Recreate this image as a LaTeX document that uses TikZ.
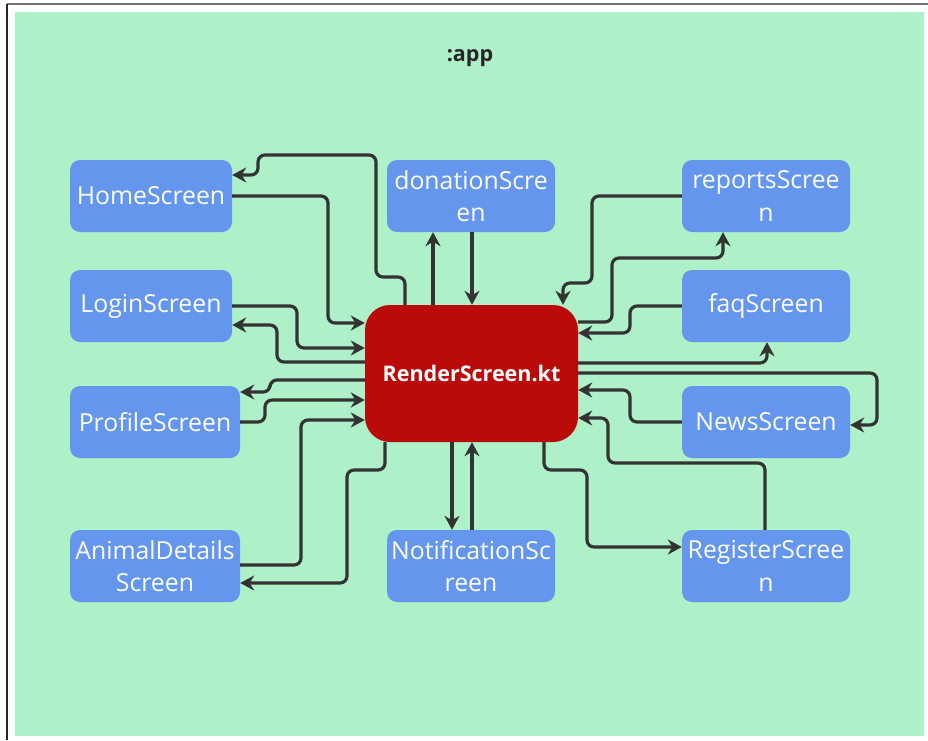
\documentclass[tikz,border=0pt]{standalone}
\usepackage{fontspec}
\setmainfont{Open Sans}
\usetikzlibrary{arrows.meta, positioning}
\usepackage{xcolor}
\definecolor{appgreen}{HTML}{AEF0C8}
\definecolor{scrblue}{HTML}{6496EE}
\definecolor{corered}{HTML}{BA0A0A}
\definecolor{wire}{HTML}{333333}

\begin{document}
\begin{tikzpicture}[
  x=1pt, y=-1pt,
  screen/.style={fill=scrblue, rounded corners=10pt, align=center, text=white, inner sep=0pt,
    minimum height=72pt, minimum width=168pt, font=\fontsize{24.8}{32.5}\selectfont},
  core/.style={fill=corered, rounded corners=25pt, align=center, text=white, inner sep=0pt,
    minimum width=213pt, minimum height=137pt, font=\fontsize{21.5}{25}\selectfont\bfseries},
  arrow/.style={-{Stealth[length=14pt, width=15pt]}, line width=3.2pt, draw=wire, rounded corners=7pt}
]
\useasboundingbox (0,0) rectangle (928,740);
\fill[appgreen] (15,12) rectangle (924,736);
\draw[color=black!55, line width=1.6pt] (7,4) -- (928,4);
\draw[color=black!85, line width=1.6pt] (7,4) -- (7,740);

\node[font=\fontsize{21.5}{25}\selectfont\bfseries, text=black!85] (title) at (470,58) {:app};

\node[core] (render) at (471.5,373.5) {RenderScreen.kt};

\node[screen, minimum width=162pt] (home) at (151,196) {HomeScreen};
\node[screen, minimum width=162pt] (login) at (151,306) {LoginScreen};
\node[screen, minimum width=170pt] (profile) at (155,422) {ProfileScreen};
\node[screen, minimum width=170pt] (animal) at (155,566) {AnimalDetails\\Screen};

\node[screen] (donation) at (471,196) {donationScre\\en};
\node[screen] (notif) at (471,566) {NotificationSc\\reen};

\node[screen] (reports) at (766,196) {reportsScree\\n};
\node[screen] (faq) at (766,306) {faqScreen};
\node[screen] (news) at (766,422) {NewsScreen};
\node[screen] (register) at (766,566) {RegisterScree\\n};

\draw[arrow] (render.north -| 405,0) |- (376,277) |- (258,155) |- (home.east |- 0,175);
\draw[arrow] (home.east) -| (328,323) -- (render.west |- 0,323);
\draw[arrow] (login.east) -| (297,348) -- (render.west |- 0,348);
\draw[arrow] (render.west |- 0,362) -| (277,325) -- (login.east |- 0,325);
\draw[arrow] (render.west |- 0,380) -| (270,392) -- (profile.east |- 0,392);
\draw[arrow] (profile.east) -| (265,400) -- (render.west |- 0,400);
\draw[arrow] (animal.east |- 0,565) -| (301,420) -- (render.west |- 0,420);
\draw[arrow] (render.south -| 385,0) |- (347,470) |- (animal.east |- 0,583);

\draw[arrow] (render.north -| 433,0) -- (donation.south -| 433,0);
\draw[arrow] (donation.south -| 472,0) -- (render.north -| 472,0);
\draw[arrow] (render.south -| 452,0) -- (notif.north -| 452,0);
\draw[arrow] (notif.north -| 472,0) -- (render.south -| 472,0);

\draw[arrow] (reports.west) -| (592,283) -| (render.north -| 563,0);
\draw[arrow] (render.east |- 0,322) -| (612,258) -| (reports.south -| 723,0);
\draw[arrow] (faq.west) -| (630,333) -- (render.east |- 0,333);
\draw[arrow] (render.east |- 0,363) -| (faq.south -| 767,0);
\draw[arrow] (render.east |- 0,373) -| (877,425) -- (news.east |- 0,425);
\draw[arrow] (news.west) -| (630,390) -- (render.east |- 0,390);
\draw[arrow] (register.north -| 765,0) |- (608,463) |- (render.east |- 0,418);
\draw[arrow] (render.south -| 544,0) |- (587,470) |- (register.west |- 0,547);

\end{tikzpicture}
\end{document}
